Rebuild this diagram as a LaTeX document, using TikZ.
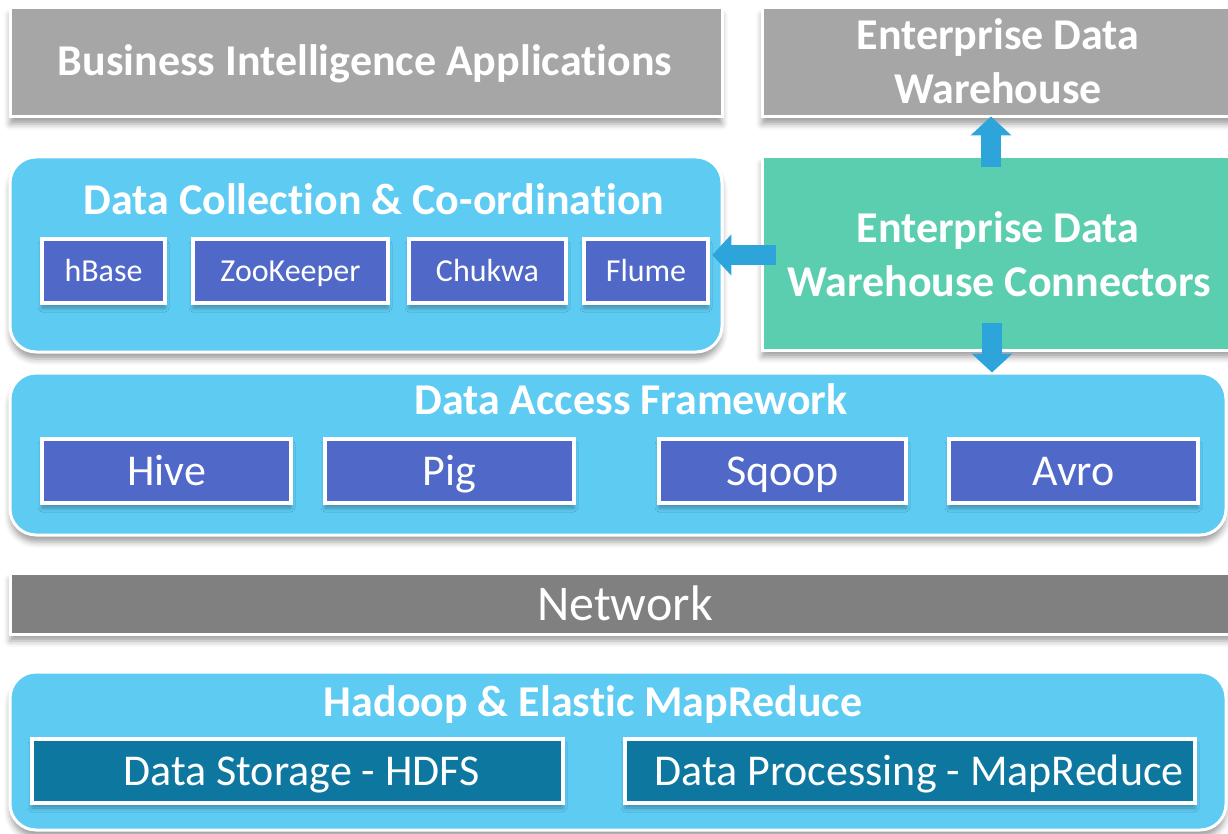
\documentclass[tikz,border=0pt]{standalone}
\usepackage{fontspec}
\setmainfont{Carlito}[Ligatures={NoCommon,NoContextual}]
\usetikzlibrary{shadows.blur,arrows.meta,calc}
\definecolor{grayA}{RGB}{166,166,166}
\definecolor{grayB}{RGB}{128,128,128}
\definecolor{skyb}{RGB}{94,203,243}
\definecolor{mint}{RGB}{92,206,176}
\definecolor{royal}{RGB}{80,104,200}
\definecolor{hdteal}{RGB}{14,119,160}
\definecolor{arrowc}{RGB}{46,165,218}
\newcommand{\nolig}{\kern0pt }
\begin{document}
\begin{tikzpicture}[x=1pt,y=-1pt,
  layer/.style={draw=white, line width=3pt, inner sep=0pt,
    blur shadow={shadow xshift=0pt, shadow yshift=-7pt, shadow blur radius=6pt, shadow opacity=38}},
  rlayer/.style={layer, rounded corners=26pt, fill=skyb},
  subbox/.style={draw=white, line width=4.5pt, inner sep=0pt, minimum height=64pt,
    blur shadow={shadow xshift=0pt, shadow yshift=-5pt, shadow blur radius=4pt, shadow opacity=30}},
  smallbox/.style={subbox, fill=royal},
  midbox/.style={subbox, fill=royal},
  tealbox/.style={subbox, fill=hdteal},
  ttl/.style={text=white, font=\bfseries\fontsize{44}{54}\selectfont, inner sep=0pt, anchor=base},
  lbl/.style={text=white, font=\fontsize{44}{52}\selectfont, inner sep=0pt, anchor=base},
  slbl/.style={text=white, font=\fontsize{32}{38}\selectfont, inner sep=0pt, anchor=base},
  blockarrow/.style={draw=arrowc, line width=20pt, -{Triangle[width=40pt,length=19pt]}}
]
\useasboundingbox (0,0) rectangle (1228,834);

% main layers
\node[layer, fill=grayA, minimum width=712pt, minimum height=109pt] (bi) at (366,62.5) {};
\node[layer, fill=grayA, minimum width=470pt, minimum height=109pt] (edw) at (997,62.5) {};
\node[rlayer, minimum width=712pt, minimum height=195pt] (dcc) at (366,254.5) {};
\node[layer, fill=mint, minimum width=470pt, minimum height=193pt] (conn) at (997,253.5) {};
\node[rlayer, minimum width=1216pt, minimum height=162pt] (daf) at (618,454) {};
\node[layer, fill=grayB, minimum width=1222pt, minimum height=61pt] (net) at (621,603.5) {};
\node[rlayer, minimum width=1216pt, minimum height=158pt] (had) at (618,751) {};

% titles
\node[ttl] (tbi) at (365,76) {Business Intelligence Applicat\nolig ions};
\node[ttl] (tedw1) at (998,50) {Enterprise Data};
\node[ttl] (tedw2) at (998,104) {Warehouse};
\node[ttl] (tdcc) at (374,215) {Data Collect\nolig ion \& Co-ordinat\nolig ion};
\node[ttl] (tconn1) at (998,243) {Enterprise Data};
\node[ttl] (tconn2) at (999,296) {Warehouse Connectors};
\node[ttl] (tdaf) at (631,414) {Data Access Framework};
\node[text=white, font=\fontsize{50}{60}\selectfont, inner sep=0pt, anchor=base] (tnet) at (625,620) {Network};
\node[ttl] (thad) at (593,716) {Hadoop \& Elast\nolig ic MapReduce};

% sub boxes: data collection
\node[smallbox, minimum width=123pt] (hbase) at (103.5,271) {};
\node[smallbox, minimum width=195pt] (zoo) at (290.5,271) {};
\node[smallbox, minimum width=157pt] (chuk) at (487.5,271) {};
\node[smallbox, minimum width=124pt] (flume) at (646,271) {};
\foreach \n/\t in {hbase/hBase, zoo/ZooKeeper, chuk/Chukwa, flume/Flume}
  \node[slbl] at ([yshift=-10.5pt]\n.center) {\t};

% sub boxes: data access
\node[midbox, minimum width=249pt] (hive) at (166.5,471) {};
\node[midbox, minimum width=249pt] (pig) at (449.5,471) {};
\node[midbox, minimum width=247pt] (sqoop) at (782.5,471) {};
\node[midbox, minimum width=249pt] (avro) at (1073.5,471) {};
\foreach \n/\t in {hive/Hive, pig/Pig, sqoop/Sqoop, avro/Avro}
  \node[lbl] at ([yshift=-14pt]\n.center) {\t};

% sub boxes: hadoop
\node[tealbox, minimum width=531pt] (hdfs) at (297.5,771) {};
\node[tealbox, minimum width=570pt] (mapr) at (910,771) {};
\node[lbl] at ([xshift=4pt,yshift=-14pt]hdfs.center) {Data Storage - HDFS};
\node[lbl] at ([xshift=9pt,yshift=-14pt]mapr.center) {Data Processing - MapReduce};

% block arrows
\draw[blockarrow] ([xshift=-6pt,yshift=-12pt]conn.north) -- ([xshift=-6pt,yshift=2pt]edw.south);
\draw[blockarrow] ([xshift=15pt,yshift=16pt]conn.west |- flume.center) -- ([xshift=2pt,yshift=16pt]flume.east |- flume.center);
\draw[blockarrow] ([xshift=-5pt,yshift=29pt]conn.south) -- ([xshift=-5pt,yshift=-1pt]conn.south |- daf.north);
\end{tikzpicture}
\end{document}
